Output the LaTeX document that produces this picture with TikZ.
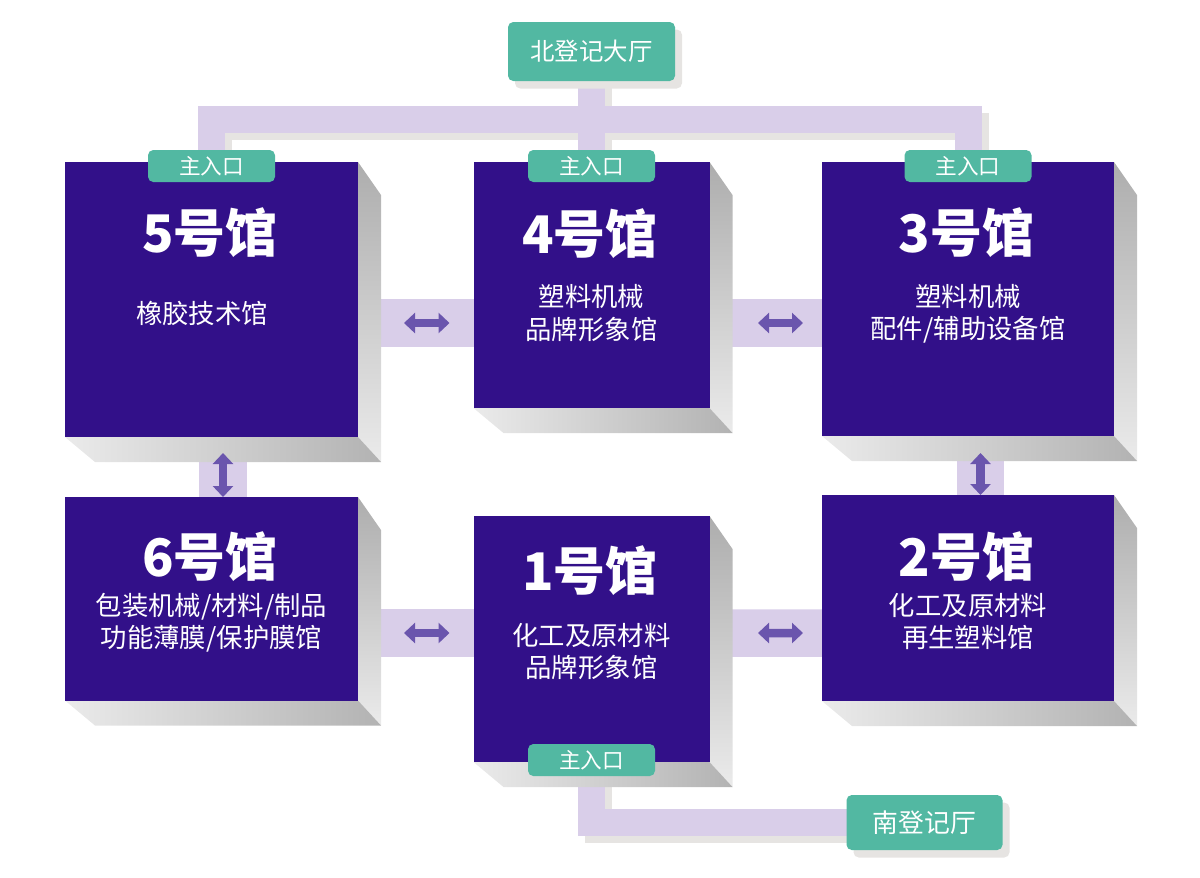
\documentclass[tikz,border=0pt]{standalone}
\usepackage{fontspec}
\setmainfont{Noto Sans CJK SC}
\usepackage{xcolor}
\usetikzlibrary{positioning,arrows.meta,calc,backgrounds,shadows}
\definecolor{hallblue}{HTML}{321089}
\definecolor{lobbygreen}{HTML}{52B8A2}
\definecolor{linkpurple}{HTML}{D9CEE9}
\definecolor{arrowpurple}{HTML}{6A55AD}
\definecolor{softgray}{HTML}{E6E4E2}
\tikzset{
    hall/.style={
        rectangle, fill=hallblue,
        inner sep=0pt, outer sep=0pt
    },
    halltitle/.style={
        text=white, font=\fontsize{29.5}{32}\selectfont\bfseries
    },
    hallsub/.style={
        text=white, align=center,
        font=\fontsize{15}{18.4}\selectfont
    },
    entry/.style={
        rectangle, rounded corners=3pt, fill=lobbygreen,
        minimum width=2.54cm, minimum height=0.64cm,
        inner sep=0pt, outer sep=0pt, text=white,
        font=\fontsize{12.3}{14}\selectfont
    },
    lobby/.style={
        rectangle, rounded corners=3pt, fill=lobbygreen,
        inner sep=0pt, outer sep=0pt, text=white,
        drop shadow={shadow xshift=0.14cm, shadow yshift=-0.15cm,
            fill=softgray, opacity=1}
    },
    route/.style={draw=linkpurple, line width=0.54cm},
    routeshadow/.style={draw=softgray, line width=0.54cm,
        transform canvas={xshift=0.14cm, yshift=-0.13cm}},
    link/.style={draw=linkpurple, line width=0.95cm},
    linkarrow/.style={
        draw=arrowpurple, line width=0.17cm,
        {Triangle[width=0.4cm,length=0.22cm]}-{Triangle[width=0.4cm,length=0.22cm]}
    }
}
\newcommand{\hallsides}[1]{
    \shade[top color=black!32, bottom color=black!8]
        (#1.north east) -- ($(#1.north east)+(0.46,-0.66)$)
        -- ($(#1.south east)+(0.46,-0.5)$) -- (#1.south east) -- cycle;
    \shade[left color=black!8, right color=black!30]
        (#1.south west) -- ($(#1.south west)+(0.6,-0.5)$)
        -- ($(#1.south east)+(0.46,-0.5)$) -- (#1.south east) -- cycle;
}
\begin{document}
\begin{tikzpicture}
    \useasboundingbox (0,0) rectangle (24,-17.54);

    % Halls, upper row
    \node[hall, minimum width=5.86cm, minimum height=5.5cm, anchor=north west]
        (hall5) at (1.3,-3.24) {};
    \node[hall, minimum width=4.72cm, minimum height=4.92cm,
        right=2.31cm of hall5.north east, anchor=north west] (hall4) {};
    \node[hall, minimum width=5.84cm, minimum height=5.48cm,
        right=2.25cm of hall4.north east, anchor=north west] (hall3) {};

    % Halls, lower row
    \node[hall, minimum width=5.86cm, minimum height=4.07cm,
        below=1.2cm of hall5.south west, anchor=north west] (hall6) {};
    \node[hall, minimum width=4.72cm, minimum height=4.92cm,
        below=2.16cm of hall4.south west, anchor=north west] (hall1) {};
    \node[hall, minimum width=5.84cm, minimum height=4.12cm,
        below=1.18cm of hall3.south west, anchor=north west] (hall2) {};

    % Hall titles
    \node[halltitle, below=1.42cm of hall5.north, anchor=center, xshift=-0.03cm] (title5) {5号馆};
    \node[halltitle, below=1.44cm of hall4.north, anchor=center, xshift=-0.03cm] (title4) {4号馆};
    \node[halltitle, below=1.42cm of hall3.north, anchor=center, xshift=-0.03cm] (title3) {3号馆};
    \node[halltitle, below=1.2cm of hall6.north, anchor=center, xshift=-0.03cm] (title6) {6号馆};
    \node[halltitle, below=1.1cm of hall1.north, anchor=center, xshift=-0.03cm] (title1) {1号馆};
    \node[halltitle, below=1.24cm of hall2.north, anchor=center, xshift=-0.03cm] (title2) {2号馆};

    % Hall descriptions
    \node[hallsub, below=3.02cm of hall5.north, anchor=center, xshift=-0.19cm] (sub5) {橡胶技术馆};
    \node[hallsub, below=3.02cm of hall4.north, anchor=center] (sub4) {塑料机械\\品牌形象馆};
    \node[hallsub, below=3.04cm of hall3.north, anchor=center] (sub3) {塑料机械\\配件/辅助设备馆};
    \node[hallsub, below=2.51cm of hall6.north, anchor=center] (sub6) {包装机械/材料/制品\\功能薄膜/保护膜馆};
    \node[hallsub, below=2.71cm of hall1.north, anchor=center] (sub1) {化工及原材料\\品牌形象馆};
    \node[hallsub, below=2.53cm of hall2.north, anchor=center] (sub2) {化工及原材料\\再生塑料馆};

    % Main entrances
    \node[entry, above=-0.4cm of hall5.north] (entry5) {主入口};
    \node[entry, above=-0.4cm of hall4.north] (entry4) {主入口};
    \node[entry, above=-0.4cm of hall3.north] (entry3) {主入口};
    \node[entry, below=-0.36cm of hall1.south] (entry1) {主入口};

    % Registration lobbies
    \node[lobby, minimum width=3.34cm, minimum height=1.18cm, above=1.38cm of entry4.north,
        font=\fontsize{13.9}{16}\selectfont] (north) {北登记大厅};
    \node[lobby, minimum width=3.12cm, minimum height=1.1cm,
        below right=0.66cm and 2.74cm of hall1.south east,
        font=\fontsize{14.7}{16}\selectfont] (south) {南登记厅};
    \coordinate[below=0.77cm of north.south] (junction);

    \begin{scope}[on background layer]
        % Shadows of the routes
        \draw[routeshadow] (entry5.center) |- (junction) -| (entry3.center);
        \draw[routeshadow] (north.center) -- (entry4.center);
        \draw[routeshadow] (entry1.center) |- (south.center);

        % Routes from lobbies to entrances
        \draw[route] (entry5.center) |- (junction) -| (entry3.center);
        \draw[route] (north.center) -- (entry4.center);
        \draw[route] (entry1.center) |- (south.center);

        % Links between halls
        \draw[link] ($(hall5.north east)+(0,-3.22)$) -- ($(hall4.north west)+(0,-3.22)$);
        \draw[link] ($(hall4.north east)+(0,-3.22)$) -- ($(hall3.north west)+(0,-3.22)$);
        \draw[link] ($(hall6.north east)+(0,-2.72)$) -- ($(hall1.north west)+(0,-2.34)$);
        \draw[link] ($(hall1.north east)+(0,-2.34)$) -- ($(hall2.north west)+(0,-2.76)$);
        \draw[link] ($(hall5.south west)+(3.16,0)$) -- ($(hall6.north west)+(3.16,0)$);
        \draw[link] ($(hall3.south west)+(3.17,0)$) -- ($(hall2.north west)+(3.17,0)$);

        % Block sides
        \hallsides{hall5}
        \hallsides{hall4}
        \hallsides{hall3}
        \hallsides{hall6}
        \hallsides{hall1}
        \hallsides{hall2}
    \end{scope}

    % Arrows on the links
    \draw[linkarrow] ($(hall5.north east)+(0.92,-3.22)$) -- ($(hall4.north west)+(-0.48,-3.22)$);
    \draw[linkarrow] ($(hall4.north east)+(0.97,-3.22)$) -- ($(hall3.north west)+(-0.38,-3.22)$);
    \draw[linkarrow] ($(hall6.north east)+(0.92,-2.72)$) -- ($(hall1.north west)+(-0.48,-2.34)$);
    \draw[linkarrow] ($(hall1.north east)+(0.97,-2.34)$) -- ($(hall2.north west)+(-0.38,-2.76)$);
    \draw[linkarrow] ($(hall5.south west)+(3.16,-0.32)$) -- ($(hall6.north west)+(3.16,0)$);
    \draw[linkarrow] ($(hall3.south west)+(3.17,-0.34)$) -- ($(hall2.north west)+(3.17,0)$);

\end{tikzpicture}
\end{document}
